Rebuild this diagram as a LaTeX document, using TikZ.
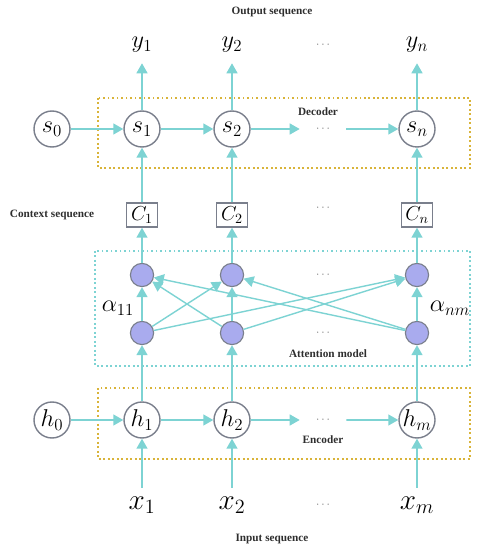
\documentclass[tikz,border=0pt]{standalone}
\usepackage{fontspec}
\setmainfont{Liberation Serif}
\usetikzlibrary{arrows.meta, positioning}

\definecolor{flowc}{HTML}{7DD3D3}
\definecolor{ringc}{HTML}{7A7F8C}
\definecolor{attc}{HTML}{A9ABEE}
\definecolor{goldc}{HTML}{D9B43A}
\definecolor{txtc}{HTML}{2E2E2E}

\begin{document}
\begin{tikzpicture}[
  font=\footnotesize,
  rnn/.style={circle, draw=ringc, line width=1pt, fill=white, minimum size=9mm,
              inner sep=0pt, font=\LARGE},
  att/.style={circle, draw=ringc, line width=0.8pt, fill=attc, minimum size=5.8mm,
              inner sep=0pt},
  ctx/.style={draw=ringc, line width=1pt, minimum width=7.75mm, minimum height=6mm,
              inner sep=0pt, font=\Large},
  outl/.style={minimum height=9mm, inner sep=0pt, font=\LARGE},
  inl/.style={minimum height=8.5mm, inner sep=0pt, font=\huge},
  dots/.style={minimum width=11.5mm, inner sep=0pt, text=black!55, font=\footnotesize},
  tag/.style={text=txtc, font=\footnotesize\bfseries},
  lane/.style={dotted, line width=1.2pt},
  flow/.style={draw=flowc, line width=1.4pt, -{Triangle[length=2.5mm, width=2.7mm]}},
  cross/.style={flow, line width=1pt},
  node distance=22.5mm, on grid]

  \useasboundingbox (-35.5mm,32.25mm) rectangle (84.5mm,-105.25mm);

  % decoder
  \node[rnn] (s1) {$s_1$};
  \node[rnn, left=of s1] (s0) {$s_0$};
  \node[rnn, right=of s1] (s2) {$s_2$};
  \node[dots, right=22.75mm of s2] (sd) {$\cdots$};
  \node[rnn, right=23.5mm of sd] (sn) {$s_n$};
  \node[tag, above=4.25mm of sd, xshift=-1.25mm] (declbl) {Decoder};
  \draw[lane, goldc] (-11mm,7.75mm) rectangle (82mm,-9.75mm);

  % outputs
  \node[outl, above=21mm of s1] (y1) {$y_1$};
  \node[outl, above=21mm of s2] (y2) {$y_2$};
  \node[dots, above=21mm of sd] (yd) {$\cdots$};
  \node[outl, above=21mm of sn] (yn) {$y_n$};
  \node[tag, above=8.25mm of y2, xshift=10mm] (outlbl) {Output sequence};

  % context vectors
  \node[ctx, below=21.5mm of s1] (c1) {$C_1$};
  \node[ctx, below=21.5mm of s2] (c2) {$C_2$};
  \node[dots, below=19.75mm of sd] (cd) {$\cdots$};
  \node[ctx, below=21.5mm of sn] (cn) {$C_n$};
  \node[tag, left=of c1] (ctxlbl) {Context sequence};

  % attention model
  \node[att, below=15mm of c1] (t1) {};
  \node[att, below=15mm of c2] (t2) {};
  \node[dots, below=15mm of cd, yshift=-1.75mm] (td) {$\cdots$};
  \node[att, below=15mm of cn] (tn) {};
  \node[att, below=14.5mm of t1] (b1) {};
  \node[att, below=14.5mm of t2] (b2) {};
  \node[dots, below=14.5mm of td] (bd) {$\cdots$};
  \node[att, below=14.5mm of tn] (bn) {};
  \node[font=\LARGE, left=6mm of b1, yshift=6.25mm] (a11) {$\alpha_{11}$};
  \node[font=\LARGE, right=8.25mm of bn, yshift=6.25mm] (anm) {$\alpha_{nm}$};
  \node[tag, below=5.25mm of bd, xshift=1.25mm] (attlbl) {Attention model};
  \draw[lane, flowc] (-11.75mm,-30.5mm) rectangle (82mm,-59.25mm);

  % encoder
  \node[rnn, below=21.75mm of b1] (h1) {$h_1$};
  \node[rnn, left=of h1] (h0) {$h_0$};
  \node[rnn, below=21.75mm of b2] (h2) {$h_2$};
  \node[dots, below=21.75mm of bd] (hd) {$\cdots$};
  \node[rnn, below=21.75mm of bn] (hn) {$h_m$};
  \node[tag, below=5mm of hd] (enclbl) {Encoder};
  \draw[lane, goldc] (-11mm,-64.75mm) rectangle (82mm,-82.5mm);

  % inputs
  \node[inl, below=21.25mm of h1] (x1) {$x_1$};
  \node[inl, below=21.25mm of h2] (x2) {$x_2$};
  \node[dots, below=21.25mm of hd] (xd) {$\cdots$};
  \node[inl, below=21.25mm of hn] (xn) {$x_m$};
  \node[tag, below=8.5mm of x2, xshift=10mm] (inlbl) {Input sequence};

  % recurrences
  \draw[flow] (s0) -- (s1);
  \draw[flow] (s1) -- (s2);
  \draw[flow] (s2) -- (sd);
  \draw[flow] (sd) -- (sn);
  \draw[flow] (h0) -- (h1);
  \draw[flow] (h1) -- (h2);
  \draw[flow] (h2) -- (hd);
  \draw[flow] (hd) -- (hn);

  % columns
  \draw[flow] (s1) -- (y1);
  \draw[flow] (s2) -- (y2);
  \draw[flow] (sn) -- (yn);
  \draw[flow] (c1) -- (s1);
  \draw[flow] (c2) -- (s2);
  \draw[flow] (cn) -- (sn);
  \draw[flow] (t1) -- (c1);
  \draw[flow] (t2) -- (c2);
  \draw[flow] (tn) -- (cn);
  \draw[flow] (b1) -- (t1);
  \draw[flow] (b2) -- (t2);
  \draw[flow] (bn) -- (tn);
  \draw[flow] (h1) -- (b1);
  \draw[flow] (h2) -- (b2);
  \draw[flow] (hn) -- (bn);
  \draw[flow] (x1) -- (h1);
  \draw[flow] (x2) -- (h2);
  \draw[flow] (xn) -- (hn);

  % attention weights
  \draw[cross] (b1) -- (t2);
  \draw[cross] (b1) -- (tn);
  \draw[cross] (b2) -- (t1);
  \draw[cross] (b2) -- (tn);
  \draw[cross] (bn) -- (t1);
  \draw[cross] (bn) -- (t2);
\end{tikzpicture}
\end{document}
